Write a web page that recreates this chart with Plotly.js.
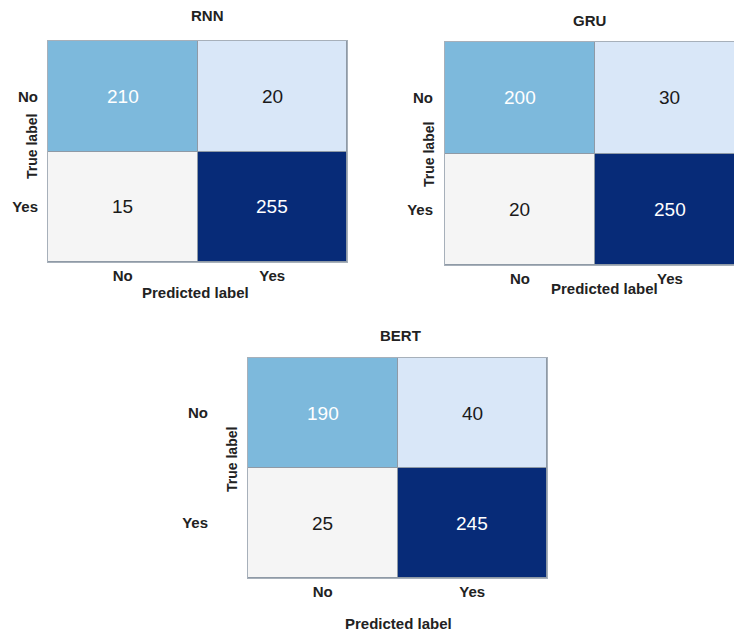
<!DOCTYPE html>
<html>
<head>
<meta charset="utf-8">
<script src="https://cdn.plot.ly/plotly-3.0.1.min.js"></script>
<style>html,body{margin:0;padding:0;background:#fff;}#chart{width:734px;height:632px;}</style>
</head>
<body>
<div id="chart"></div>
<script>
// ---- data ----
const labels = ['No', 'Yes'];
const modelNames = ['RNN', 'GRU', 'BERT'];
const rnnValues  = [[210, 20], [15, 255]];
const gruValues  = [[200, 30], [20, 250]];
const bertValues = [[190, 40], [25, 245]];
const xTitle = 'Predicted label';
const yTitle = 'True label';

// ---- styling ----
const cellColors = ['#f5f5f5', '#d9e7f8', '#7db9dc', '#072b78']; // low -> high
const FONT = '"Liberation Sans", Arial, sans-serif';

function scaleFor(z) {
  const flat = z.flat().slice().sort((a, b) => a - b);
  const lo = flat[0], hi = flat[flat.length - 1];
  return { zmin: lo, zmax: hi,
    colorscale: flat.map((v, i) => [(v - lo) / (hi - lo), cellColors[i]]) };
}

const panels = [
  { z: rnnValues,  xa: 'x',  ya: 'y',  xd: [48/734, 347/734], yd: [1-262/632, 1-41/632],  xr: [-0.5, 1.5], ystand: 6,
    title: [207, 15], ytitle: [32, 147], xtitle: [195, 292] },
  { z: gruValues,  xa: 'x2', ya: 'y2', xd: [445/734, 1], yd: [1-265/632, 1-42/632], xr: [-0.5, 1.427], ystand: 8,
    title: [589, 21], ytitle: [429, 155], xtitle: [604, 288] },
  { z: bertValues, xa: 'x3', ya: 'y3', xd: [248/734, 547/734], yd: [1-578/632, 1-358/632], xr: [-0.5, 1.5], ystand: 36,
    title: [400, 336], ytitle: [232, 460], xtitle: [398, 623] }
];

const traces = [];
const annotations = [];
const layout = {
  width: 734, height: 632,
  margin: { l: 0, r: 0, t: 0, b: 0 },
  paper_bgcolor: '#ffffff',
  plot_bgcolor: '#8f9aa6',
  showlegend: false,
  font: { family: FONT, color: '#222' }
};

panels.forEach((p, k) => {
  const sc = scaleFor(p.z);
  traces.push({
    type: 'heatmap', x: labels, y: labels, z: p.z,
    xaxis: p.xa, yaxis: p.ya,
    zmin: sc.zmin, zmax: sc.zmax, colorscale: sc.colorscale,
    showscale: false, xgap: 1, ygap: 1, hoverinfo: 'z'
  });
  const suffix = k === 0 ? '' : String(k + 1);
  layout['xaxis' + suffix] = {
    domain: p.xd, anchor: 'y' + suffix, type: 'category', range: p.xr,
    showgrid: false, zeroline: false, ticks: '', showline: true, mirror: true,
    linecolor: '#a7b0ba', linewidth: 1,
    tickfont: { family: FONT, size: 15, color: '#222', weight: 'bold' }
  };
  layout['yaxis' + suffix] = {
    domain: p.yd, anchor: 'x' + suffix, type: 'category', autorange: 'reversed',
    showgrid: false, zeroline: false, ticks: 'outside', ticklen: p.ystand, tickcolor: 'rgba(0,0,0,0)',
    showline: true, mirror: true, linecolor: '#a7b0ba', linewidth: 1,
    tickfont: { family: FONT, size: 15, color: '#222', weight: 'bold' }
  };
  // cell values
  p.z.forEach((row, i) => row.forEach((v, j) => {
    const dark = (i === j);
    annotations.push({
      xref: p.xa, yref: p.ya, x: labels[j], y: labels[i], text: String(v), showarrow: false,
      font: { family: FONT, size: 19, color: dark ? '#ffffff' : '#1a1a1a' }
    });
  }));
  // titles
  annotations.push({ xref: 'paper', yref: 'paper', x: p.title[0] / 734, y: 1 - p.title[1] / 632,
    text: '<b>' + modelNames[k] + '</b>', showarrow: false, xanchor: 'center', yanchor: 'middle',
    font: { family: FONT, size: 15, color: '#222' } });
  annotations.push({ xref: 'paper', yref: 'paper', x: p.ytitle[0] / 734, y: 1 - p.ytitle[1] / 632,
    text: '<b>' + yTitle + '</b>', textangle: -90, showarrow: false, xanchor: 'center', yanchor: 'middle',
    font: { family: FONT, size: 14, color: '#222' } });
  annotations.push({ xref: 'paper', yref: 'paper', x: p.xtitle[0] / 734, y: 1 - p.xtitle[1] / 632,
    text: '<b>' + xTitle + '</b>', showarrow: false, xanchor: 'center', yanchor: 'middle',
    font: { family: FONT, size: 15, color: '#222' } });
});
layout.annotations = annotations;

Plotly.newPlot('chart', traces, layout, { displayModeBar: false, staticPlot: true });
</script>
</body>
</html>
